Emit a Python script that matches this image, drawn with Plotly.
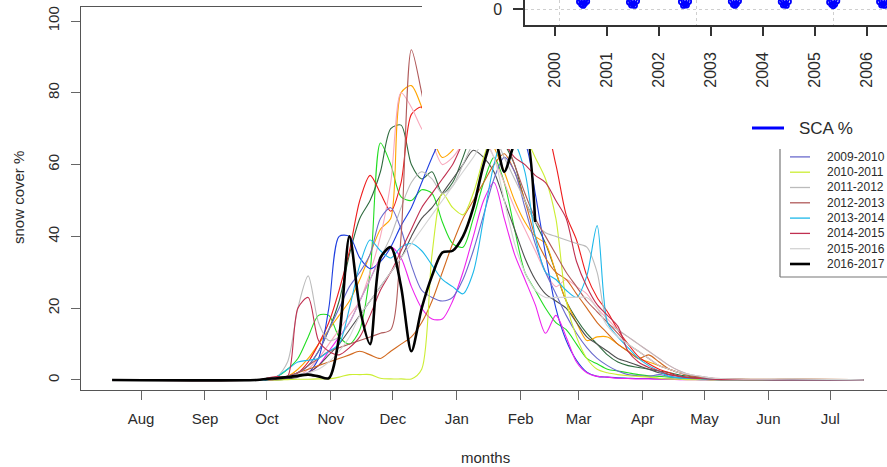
import plotly.graph_objects as go

# ---------------- data: seasonal snow cover (%) ----------------
# days counted from 18 July of each season
grid_days = [0, 70, 75, 80, 85, 90, 95, 100, 105, 110, 115, 120, 125, 130, 135, 140, 145, 150,
             155, 160, 165, 170, 175, 180, 185, 190, 195, 200, 205, 210, 215, 220, 225, 230,
             235, 240, 245, 250, 255, 260, 265, 270, 275, 280, 285, 290, 295, 310, 330, 364]

month_labels = ["Aug", "Sep", "Oct", "Nov", "Dec", "Jan", "Feb", "Mar", "Apr", "May", "Jun", "Jul"]
month_start_days = [14, 45, 75, 106, 136, 167, 198, 226, 257, 287, 318, 348]
y_ticks = [0, 20, 40, 60, 80, 100]

season_labels = ["2000-2001", "2001-2002", "2002-2003", "2003-2004", "2004-2005", "2005-2006",
                 "2006-2007", "2007-2008", "2008-2009", "2009-2010", "2010-2011", "2011-2012",
                 "2012-2013", "2013-2014", "2014-2015", "2015-2016", "2016-2017"]

snow_2000_2001 = [0, 0, 0.3, 1, 3, 6, 12, 18, 18, 12, 10, 14, 30, 66, 60, 51, 50, 53, 52, 44,
                  38, 37, 45, 55, 62, 55, 42, 30, 25, 20, 16, 14, 10, 6, 4.5, 3, 2.5, 2, 1.5, 1.2,
                  1, 0.8, 0.6, 0.4, 0.3, 0.2, 0.2, 0.1, 0, 0]
snow_2001_2002 = [0, 0, 0.2, 0.5, 1, 2, 4, 8, 14, 22, 35, 45, 50, 58, 70, 71, 60, 56, 58, 52,
                  55, 62, 70, 75, 72, 66, 60, 50, 44, 38, 30, 22, 17, 13, 10, 7, 5, 4, 3.5, 3,
                  2.5, 2, 1.4, 1, 0.6, 0.4, 0.3, 0.1, 0, 0]
snow_2002_2003 = [0, 0, 0, 0.5, 1, 3, 6, 10, 14, 18, 22, 28, 35, 42, 45, 80, 82, 76, 68, 62,
                  64, 70, 75, 72, 65, 58, 50, 44, 40, 38, 30, 22, 16, 11, 12, 12, 10, 8, 6, 5,
                  4, 3, 2, 1.2, 0.8, 0.5, 0.3, 0.2, 0.1, 0]
snow_2003_2004 = [0, 0, 0, 0.3, 1, 2, 5, 10, 16, 25, 36, 50, 57, 52, 47, 55, 74, 76, 68, 70,
                  75, 78, 80, 82, 80, 78, 75, 72, 70, 70, 60, 46, 39, 29, 23, 19, 14, 10, 6.5, 4.5,
                  3, 2, 1, 0.6, 0.4, 0.3, 0.2, 0.1, 0, 0]
snow_2004_2005 = [0, 0, 0, 0.2, 0.5, 1, 3, 6, 10, 14, 18, 22, 30, 40, 55, 80, 76, 70, 66, 60,
                  62, 66, 70, 68, 62, 55, 48, 42, 36, 30, 26, 28, 26, 24, 20, 17, 14, 12, 10, 8,
                  6, 4, 2.5, 1.5, 1, 0.6, 0.4, 0.2, 0.1, 0]
snow_2005_2006 = [0, 0, 0, 0.5, 1, 1.5, 2, 6, 20, 40, 40, 34, 31, 33, 37, 43, 48, 55, 62, 68,
                  72, 75, 76, 74, 72, 70, 68, 66, 52, 35, 20, 11, 5.5, 2.2, 1, 0.8, 0.6, 0.5, 0.4, 0.4,
                  0.3, 0.3, 0.2, 0.2, 0.1, 0.1, 0.1, 0, 0, 0]
snow_2006_2007 = [0, 0, 0, 0.2, 0.5, 1, 2, 4, 8, 12, 16, 22, 28, 34, 37, 34, 26, 20, 17, 17,
                  22, 30, 40, 50, 55, 45, 35, 28, 21, 13, 18, 12, 5, 2, 1, 0.8, 0.5, 0.4, 0.3, 0.3,
                  0.2, 0.2, 0.1, 0.1, 0.1, 0, 0, 0, 0, 0]
snow_2007_2008 = [0, 0, 0, 0, 0.3, 0.8, 2, 4, 7, 10, 14, 18, 22, 26, 30, 34, 40, 45, 48, 52,
                  56, 60, 64, 62, 58, 50, 42, 34, 28, 24, 22, 20, 16, 12, 10, 8, 6, 5, 4, 3,
                  2, 1.5, 1, 0.6, 0.4, 0.2, 0.1, 0.05, 0, 0]
snow_2008_2009 = [0, 0, 0, 0.5, 1, 2, 3, 4, 5, 6, 7, 8, 7, 6, 8, 10, 12, 16, 22, 30,
                  38, 45, 50, 55, 60, 63, 58, 50, 40, 34, 30, 28, 24, 20, 16, 13, 10, 8, 6, 7,
                  5, 3, 2, 1.2, 0.8, 0.5, 0.3, 0.1, 0.3, 0]
snow_2009_2010 = [0, 0, 0, 0.3, 1, 2, 4, 8, 14, 20, 26, 30, 35, 45, 48, 42, 32, 25, 23, 22,
                  23, 28, 36, 46, 56, 62, 58, 48, 38, 30, 24, 18, 13, 9, 6, 4, 2.5, 1.5, 1.2, 1,
                  1.5, 1, 0.6, 0.4, 0.2, 0.1, 0.1, 0, 0, 0]
snow_2010_2011 = [0, 0, 0, 0, 0.1, 0.2, 0.2, 0.3, 0.3, 0.8, 1.5, 1.5, 1.5, 0.5, 0.3, 0.3, 0.3, 3, 35, 52,
                  48, 46, 52, 62, 70, 75, 72, 68, 62, 56, 45, 22, 12, 6, 3, 2, 1.5, 1.2, 1, 0.8,
                  0.5, 0.3, 0.2, 0.1, 0.1, 0, 0, 0, 0, 0]
snow_2011_2012 = [0, 0, 0.5, 1, 5, 20, 29, 16, 11, 12, 16, 22, 28, 34, 40, 48, 55, 58, 56, 52,
                  54, 60, 66, 70, 68, 62, 56, 50, 44, 41, 40, 39, 38, 37, 30, 16, 14, 12, 10, 8,
                  6, 4, 2.5, 1.5, 1, 0.6, 0.3, 0.2, 0.1, 0]
snow_2012_2013 = [0, 0, 0, 0.3, 1, 2, 4, 6, 8, 9, 10, 11, 12, 13, 14, 40, 92, 80, 66, 66,
                  70, 74, 78, 80, 76, 68, 60, 52, 45, 40, 35, 30, 26, 22, 19, 16, 13, 10, 8, 6,
                  4, 3, 2, 1.2, 0.8, 0.5, 0.3, 0.1, 0, 0]
snow_2013_2014 = [0, 0, 0, 1, 3, 5, 5.5, 6, 8, 10, 20, 32, 39, 36, 34, 37, 38, 36, 32, 28,
                  26, 24, 30, 45, 60, 68, 66, 58, 40, 30, 28, 25, 23, 29, 43, 16, 12, 9, 6, 4,
                  2.5, 1, 0.6, 0.4, 0.3, 0.2, 0.1, 0.1, 0, 0]
snow_2014_2015 = [0, 0, 0.5, 1, 1, 20, 23, 11, 8, 7, 9, 12, 18, 25, 30, 36, 42, 48, 52, 56,
                  60, 66, 70, 72, 70, 66, 62, 60, 57, 55, 50, 45, 33, 26, 21, 18, 15, 8, 5, 3.5,
                  2.5, 1.5, 1, 0.6, 0.4, 0.2, 0.1, 0.1, 0, 0]
snow_2015_2016 = [0, 0, 0.2, 0.5, 1, 1.5, 2, 3, 5, 8, 12, 18, 22, 26, 30, 34, 38, 42, 46, 50,
                  54, 58, 62, 66, 62, 50, 38, 30, 25, 23, 23, 23, 23, 23, 20, 15, 12, 10, 8, 6,
                  4, 3, 2, 1.5, 1, 0.6, 0.4, 0.2, 0.3, 0]
snow_2016_2017 = [0, 0, 0.3, 0.5, 0.8, 1.2, 1.5, 1, 0.5, 12, 40, 20, 10, 34, 37, 26, 8, 20, 29, 35.5,
                  36, 40, 48, 60, 68, 58, 66, 70, 44]

season_values = [snow_2000_2001, snow_2001_2002, snow_2002_2003, snow_2003_2004, snow_2004_2005,
                 snow_2005_2006, snow_2006_2007, snow_2007_2008, snow_2008_2009, snow_2009_2010,
                 snow_2010_2011, snow_2011_2012, snow_2012_2013, snow_2013_2014, snow_2014_2015,
                 snow_2015_2016, snow_2016_2017]

# ---------------- data: inset SCA % time series ----------------
inset_year_ticks = [2000, 2001, 2002, 2003, 2004, 2005, 2006]
inset_grid_years = [2000.096, 2002.73, 2005.365]
sca_years = [2000.15, 2000.30, 2000.42, 2000.47, 2000.51, 2000.54, 2000.57, 2000.61, 2000.66, 2000.80,
             2001.05, 2001.30, 2001.38, 2001.43, 2001.47, 2001.50, 2001.53, 2001.57, 2001.62, 2001.76,
             2002.00, 2002.30, 2002.38, 2002.43, 2002.47, 2002.50, 2002.53, 2002.57, 2002.62, 2002.76,
             2003.00, 2003.26, 2003.34, 2003.39, 2003.43, 2003.46, 2003.49, 2003.53, 2003.58, 2003.72,
             2003.95, 2004.22, 2004.30, 2004.35, 2004.39, 2004.42, 2004.45, 2004.49, 2004.54, 2004.68,
             2004.90, 2005.15, 2005.23, 2005.28, 2005.32, 2005.35, 2005.38, 2005.42, 2005.47, 2005.61,
             2005.85, 2006.11, 2006.19, 2006.24, 2006.28, 2006.31, 2006.34, 2006.38, 2006.43, 2006.57,
             2006.80]
sca_values = [50, 30, 3.5, 1.8, 1.2, 0.9, 1.4, 1.9, 3.6, 30,
              60, 30, 3.5, 1.7, 1.0, 1.3, 0.9, 2.0, 3.6, 30,
              60, 30, 3.5, 1.8, 0.9, 1.2, 1.0, 1.9, 3.6, 30,
              60, 30, 3.5, 1.9, 1.1, 0.9, 1.3, 2.0, 3.6, 30,
              60, 30, 3.5, 1.8, 1.0, 1.2, 0.9, 1.9, 3.6, 30,
              60, 30, 3.5, 1.7, 1.1, 0.8, 1.2, 2.0, 3.6, 30,
              60, 30, 3.5, 1.8, 1.0, 1.2, 0.9, 1.9, 3.6, 30,
              60]

# ---------------- styles ----------------
season_colors = ["#22DD22", "#2E6B3E", "#FFA500", "#EE1C1C", "#F8A8BC", "#1F3FE0", "#EE22EE",
                 "#505050", "#D2691E", "#6A6ACD", "#CCEE33", "#BBBBBB", "#B05A5A", "#1EB8EA",
                 "#C03050", "#D3D3D3", "#000000"]

W, H = 887, 467
FONT = "Liberation Sans, Arial, Helvetica, sans-serif"
TXT = "#2b2b2b"


def fx(p):
    return p / W


def fy(p):
    return 1 - p / H


fig = go.Figure()

for lab, vals, col in zip(season_labels, season_values, season_colors):
    is_last = lab == season_labels[-1]
    fig.add_trace(go.Scatter(
        x=grid_days[:len(vals)], y=vals, mode="lines", name=lab,
        line=dict(color=col, width=2.6 if is_last else 1.1, shape="spline", smoothing=0.8),
        hoverinfo="skip", xaxis="x", yaxis="y"))

# white cover behind the inset (separate overlapping subplot)
fig.add_trace(go.Scatter(x=[0.5], y=[0.5], mode="markers", marker=dict(opacity=0),
                         hoverinfo="skip", xaxis="x2", yaxis="y2"))

# inset series
fig.add_trace(go.Scatter(
    x=sca_years, y=sca_values, mode="lines+markers",
    line=dict(color="#0000FF", width=2),
    marker=dict(symbol="circle-open", size=5, color="#0000FF", line=dict(width=1.8)),
    hoverinfo="skip", xaxis="x3", yaxis="y3"))

px_per_day = 2.064
day0_px = 112.1
x_range = [(81 - day0_px) / px_per_day, (W - day0_px) / px_per_day]

px_per_year = 52.0
year0_px = 555.0
inset_range = [2000 + (525 - year0_px) / px_per_year, 2000 + (W - year0_px) / px_per_year]

fig.update_layout(
    width=W, height=H,
    margin=dict(l=0, r=0, t=0, b=0),
    paper_bgcolor="white", plot_bgcolor="white",
    showlegend=False,
    font=dict(family=FONT, color=TXT, size=15),
    xaxis=dict(domain=[fx(81), 1], range=x_range, tickmode="array",
               tickvals=month_start_days, ticktext=month_labels,
               ticks="outside", ticklen=9, tickcolor="#666", tickwidth=1,
               showline=True, linecolor="#555", linewidth=1, mirror=True,
               showgrid=False, zeroline=False, tickfont=dict(size=15),
               ticklabelstandoff=6, anchor="y"),
    yaxis=dict(domain=[fy(390), fy(7)], range=[-2.79, 103.9], tickmode="array",
               tickvals=y_ticks, tickangle=-90,
               ticks="outside", ticklen=9, tickcolor="#666", tickwidth=1,
               showline=True, linecolor="#555", linewidth=1,
               showgrid=False, zeroline=False, tickfont=dict(size=15),
               ticklabelstandoff=6, anchor="x"),
    xaxis2=dict(domain=[fx(422), 1], range=[0, 1], visible=False, anchor="y2"),
    yaxis2=dict(domain=[fy(149), 1], range=[0, 1], visible=False, anchor="x2"),
    xaxis3=dict(domain=[fx(525), 1], range=inset_range, tickmode="array",
                tickvals=inset_year_ticks, ticktext=[str(v) for v in inset_year_ticks],
                tickangle=-90, ticks="outside", ticklen=9, tickcolor="#333", tickwidth=1.5,
                showline=True, linecolor="#333", linewidth=1.5,
                showgrid=False, zeroline=False, tickfont=dict(size=16, color=TXT),
                ticklabelstandoff=10,
                minor=dict(tickmode="array", tickvals=inset_grid_years, showgrid=True,
                           gridcolor="#cfcfcf", griddash="dot", gridwidth=1, ticks=""),
                anchor="y3"),
    yaxis3=dict(domain=[fy(25), 1], range=[-4, 2.25], tickmode="array", tickvals=[0],
                ticks="outside", ticklen=10, tickcolor="#333", tickwidth=1.5,
                showline=True, linecolor="#333", linewidth=1.5,
                showgrid=True, gridcolor="#cfcfcf", griddash="dot", gridwidth=1,
                zeroline=False, tickfont=dict(size=16, color=TXT),
                ticklabelstandoff=8, anchor="x3"),
)

shapes = []
annotations = []

# axis titles
annotations.append(dict(x=fx(18), y=fy(198), xref="paper", yref="paper", text="snow cover %",
                        textangle=-90, showarrow=False, font=dict(size=15, color=TXT),
                        xanchor="center", yanchor="middle"))
annotations.append(dict(x=fx(485), y=fy(457), xref="paper", yref="paper", text="months",
                        showarrow=False, font=dict(size=15, color=TXT),
                        xanchor="center", yanchor="middle"))

# inset legend "SCA %"
shapes.append(dict(type="line", xref="paper", yref="paper", x0=fx(752), x1=fx(784),
                   y0=fy(128), y1=fy(128), line=dict(color="#0000FF", width=3)))
annotations.append(dict(x=fx(797), y=fy(128), xref="paper", yref="paper", text="SCA %",
                        showarrow=False, font=dict(size=17, color=TXT),
                        xanchor="left", yanchor="middle"))

# main legend box (top part hidden under the inset)
shapes.append(dict(type="line", xref="paper", yref="paper", x0=fx(780), x1=fx(780),
                   y0=fy(149), y1=fy(277), line=dict(color="#777", width=1.2)))
shapes.append(dict(type="line", xref="paper", yref="paper", x0=fx(780), x1=1,
                   y0=fy(277), y1=fy(277), line=dict(color="#777", width=1.2)))
row_h = 15.3
last_row_y = 264
n = len(season_labels)
for i, (lab, col) in enumerate(zip(season_labels, season_colors)):
    yy = last_row_y - row_h * (n - 1 - i)
    if yy < 151:
        continue
    is_last = i == n - 1
    shapes.append(dict(type="line", xref="paper", yref="paper", x0=fx(790), x1=fx(810),
                       y0=fy(yy), y1=fy(yy),
                       line=dict(color=col, width=2.6 if is_last else 1.3)))
    annotations.append(dict(x=fx(825), y=fy(yy), xref="paper", yref="paper", text=lab,
                            showarrow=False, font=dict(size=12, color=TXT),
                            xanchor="left", yanchor="middle"))

fig.update_layout(shapes=shapes, annotations=annotations)

fig.write_html("out.html",
               config={"displayModeBar": False},
               post_script="document.body.style.margin='0';document.body.style.overflow='hidden';")
